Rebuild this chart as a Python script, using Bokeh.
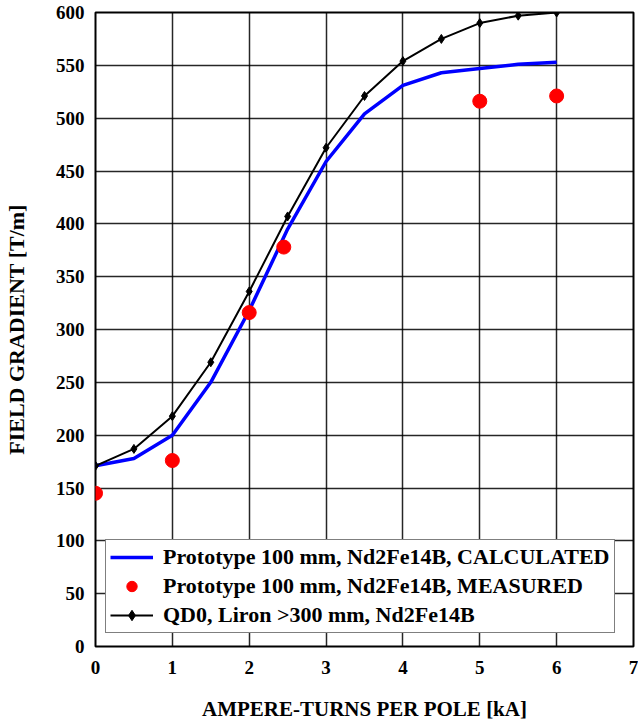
from bokeh.plotting import figure
from bokeh.models import Range1d, Legend, LegendItem, FixedTicker
from bokeh.embed import file_html
from bokeh.resources import INLINE

# Data
x_calc = [0, 0.5, 1, 1.5, 2, 2.5, 3, 3.5, 4, 4.5, 5, 5.5, 6]
y_calc = [171, 178, 200, 250, 318, 395, 459, 504, 531, 543, 547, 551, 553]

x_meas = [0, 1, 2, 2.45, 5, 6]
y_meas = [145, 176, 316, 378, 516, 521]

x_qd0 = [0, 0.5, 1, 1.5, 2, 2.5, 3, 3.5, 4, 4.5, 5, 5.5, 6]
y_qd0 = [171, 187, 218, 269, 336, 407, 472, 521, 554, 575, 590, 597, 600]

x_ticks = [0, 1, 2, 3, 4, 5, 6, 7]
y_ticks = list(range(0, 601, 50))

FONT = "Liberation Serif"

p = figure(width=638, height=723, frame_width=538, frame_height=634,
           x_range=Range1d(0, 7), y_range=Range1d(0, 600),
           output_backend="svg", toolbar_location=None,
           min_border_left=93, min_border_top=12, min_border_right=7,
           min_border_bottom=77)

p.outline_line_color = "black"
p.outline_line_width = 2
p.background_fill_color = "white"
p.border_fill_color = "white"

for ax in (p.xaxis[0], p.yaxis[0]):
    ax.axis_line_color = None
    ax.major_tick_line_color = None
    ax.minor_tick_line_color = None
    ax.major_label_text_font = FONT
    ax.major_label_text_font_style = "bold"
    ax.major_label_text_font_size = "19px"
    ax.major_label_text_color = "black"
    ax.axis_label_text_font = FONT
    ax.axis_label_text_font_style = "bold"
    ax.axis_label_text_color = "black"

p.xaxis.ticker = FixedTicker(ticks=x_ticks)
p.yaxis.ticker = FixedTicker(ticks=y_ticks)
p.xaxis.axis_label = "AMPERE-TURNS PER POLE [kA]"
p.yaxis.axis_label = "FIELD GRADIENT [T/m]"
p.xaxis.axis_label_text_font_size = "21px"
p.yaxis.axis_label_text_font_size = "22px"
p.xaxis.major_label_standoff = 8
p.yaxis.major_label_standoff = 5
p.xaxis.axis_label_standoff = 20
p.yaxis.axis_label_standoff = 24

p.grid.grid_line_color = "black"
p.grid.grid_line_width = 1.5
p.grid.grid_line_alpha = 0.85

r_calc = p.line(x_calc, y_calc, line_color="#0000ff", line_width=3.5)
r_meas = p.scatter(x_meas, y_meas, size=14, marker="circle",
                   fill_color="#ff0000", line_color="#ff0000")
r_qd0 = p.line(x_qd0, y_qd0, line_color="black", line_width=2)
r_qd0m = p.scatter(x_qd0, y_qd0, size=9, marker="diamond",
                   fill_color="black", line_color="black")

legend = Legend(items=[
    LegendItem(label="Prototype 100 mm, Nd2Fe14B, CALCULATED", renderers=[r_calc]),
    LegendItem(label="Prototype 100 mm, Nd2Fe14B, MEASURED", renderers=[r_meas]),
    LegendItem(label="QD0, Liron >300 mm, Nd2Fe14B", renderers=[r_qd0, r_qd0m]),
], location=(10, 13))
legend.label_text_font = FONT
legend.label_text_font_style = "bold"
legend.label_text_font_size = "22px"
legend.label_text_color = "black"
legend.border_line_color = "black"
legend.border_line_width = 1.5
legend.background_fill_color = "white"
legend.background_fill_alpha = 1.0
legend.glyph_width = 43
legend.glyph_height = 26
legend.label_height = 26
legend.spacing = 3
legend.padding = 4
legend.margin = 0
legend.label_standoff = 10
p.add_layout(legend, "center")

open("out.html", "w").write(file_html(p, INLINE))
